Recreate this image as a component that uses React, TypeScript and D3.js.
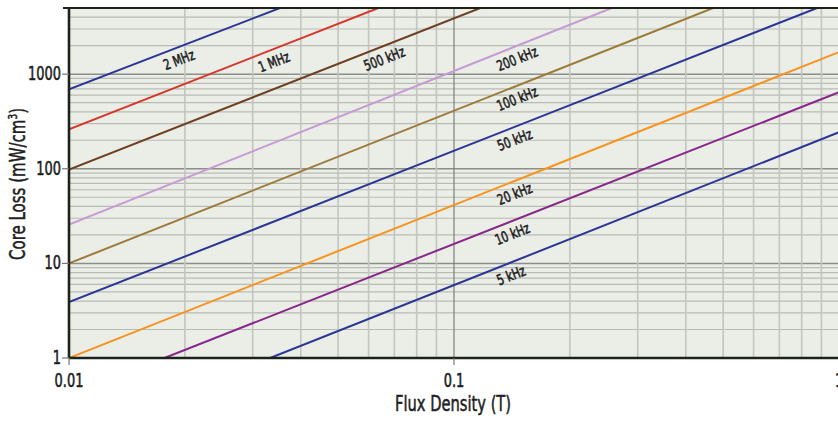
import * as d3 from "d3";
import { useEffect, useRef } from "react";

const freqLabels = ["2 MHz", "1 MHz", "500 kHz", "200 kHz", "100 kHz", "50 kHz", "20 kHz", "10 kHz", "5 kHz"];
const lineColors = ["#2b3694", "#d6372a", "#6e4023", "#c69ad2", "#9c7b3b", "#2b3694", "#f7931e", "#87278a", "#2b3694"];
// each curve at its two visible ends (B in T, P in mW/cm3)
const startB = [0.01, 0.01, 0.01, 0.01, 0.01, 0.01, 0.01, 0.0177, 0.0333];
const startP = [693, 261, 98, 25.7, 10, 3.9, 1.0, 1, 1];
const endB = [0.0353, 0.0636, 0.117, 0.257, 0.471, 0.877, 1, 1, 1];
const endP = [5000, 5000, 5000, 5000, 5000, 5000, 1710, 644, 243];
const labelB = [0.0188, 0.0332, 0.0642, 0.142, 0.142, 0.14, 0.14, 0.138, 0.137];

const xTicks = [0.01, 0.1, 1];
const xTickLabels = ["0.01", "0.1", "1"];
const yTicks = [1, 10, 100, 1000];
const yTickLabels = ["1", "10", "100", "1000"];

const W = 838;
const H = 421;
const plot = { left: 69, right: 839, top: 8, bottom: 358 };
const font = "'DejaVu Sans Condensed', 'DejaVu Sans', sans-serif";
const ink = "#1e1e1e";

type Sel = d3.Selection<any, unknown, null, undefined>;

// condensed-looking text: squeeze horizontally around the anchor point, thin stroke for a medium weight
function addText(parent: Sel, tx: number, ty: number, str: string, size: number, anchor: string, heavy = 0.4, rotate = 0, squeeze = 0.78) {
  return parent
    .append("g")
    .attr("transform", `translate(${tx},${ty}) rotate(${rotate}) scale(${squeeze},1)`)
    .append("text")
    .attr("text-anchor", anchor)
    .attr("font-family", font)
    .attr("font-size", size)
    .attr("fill", ink)
    .attr("stroke", ink)
    .attr("stroke-width", heavy)
    .text(str);
}

export default function App() {
  const svgRef = useRef<SVGSVGElement | null>(null);

  useEffect(() => {
    document.body.style.margin = "0";
    const svg = d3.select(svgRef.current) as Sel;
    svg.selectAll("*").remove();

    const x = d3.scaleLog().domain([0.01, 1]).range([plot.left, plot.right]);
    const y = d3.scaleLog().domain([1, 5000]).range([plot.bottom, plot.top]);

    svg
      .append("clipPath")
      .attr("id", "plot-clip")
      .append("rect")
      .attr("x", plot.left)
      .attr("y", plot.top)
      .attr("width", plot.right - plot.left)
      .attr("height", plot.bottom - plot.top);

    svg
      .append("rect")
      .attr("x", plot.left)
      .attr("y", plot.top)
      .attr("width", plot.right - plot.left)
      .attr("height", plot.bottom - plot.top)
      .attr("fill", "#ebede7");

    const grid = svg.append("g").attr("clip-path", "url(#plot-clip)");

    // horizontal grid
    const yMinor = d3.range(0, 4).flatMap((e) => d3.range(2, 10).map((m) => m * 10 ** e)).filter((v) => v <= 5000);
    grid
      .append("g")
      .selectAll("line")
      .data(yMinor)
      .join("line")
      .attr("x1", plot.left)
      .attr("x2", plot.right)
      .attr("y1", (d) => y(d))
      .attr("y2", (d) => y(d))
      .attr("stroke", "#b9bbb5")
      .attr("stroke-width", 1.2);
    grid
      .append("g")
      .selectAll("line")
      .data([10, 100, 1000])
      .join("line")
      .attr("x1", plot.left)
      .attr("x2", plot.right)
      .attr("y1", (d) => y(d))
      .attr("y2", (d) => y(d))
      .attr("stroke", "#8d8e8a")
      .attr("stroke-width", 1.5);

    // vertical grid
    const xMinor = [0.01, 0.1].flatMap((e) => d3.range(2, 10).map((m) => m * e));
    grid
      .append("g")
      .selectAll("line")
      .data(xMinor)
      .join("line")
      .attr("x1", (d) => x(d))
      .attr("x2", (d) => x(d))
      .attr("y1", plot.top)
      .attr("y2", plot.bottom)
      .attr("stroke", "#c3c5bf")
      .attr("stroke-width", 1.6);
    grid
      .append("line")
      .attr("x1", x(0.1))
      .attr("x2", x(0.1))
      .attr("y1", plot.top)
      .attr("y2", plot.bottom)
      .attr("stroke", "#7d7e7a")
      .attr("stroke-width", 1.2);

    // curves
    const line = d3
      .line<[number, number]>()
      .x((d) => x(d[0]))
      .y((d) => y(d[1]));
    svg
      .append("g")
      .attr("clip-path", "url(#plot-clip)")
      .selectAll("path")
      .data(freqLabels.map((_, i) => [[startB[i], startP[i]], [endB[i], endP[i]]] as [number, number][]))
      .join("path")
      .attr("d", (d) => line(d))
      .attr("fill", "none")
      .attr("stroke", (_, i) => lineColors[i])
      .attr("stroke-width", 2);

    // curve labels, set just under each curve and parallel to it
    freqLabels.forEach((label, i) => {
      const x1 = x(startB[i]);
      const y1 = y(startP[i]);
      const x2 = x(endB[i]);
      const y2 = y(endP[i]);
      const lx = x(labelB[i]);
      const ly = y1 + ((lx - x1) / (x2 - x1)) * (y2 - y1);
      const a = Math.atan2(y2 - y1, x2 - x1);
      const off = 12;
      const cx = lx - Math.sin(a) * off;
      const cy = ly + Math.cos(a) * off;
      addText(svg, cx, cy, label, 14.5, "middle", 0.55, (a * 180) / Math.PI, 0.8).attr("dy", "0.35em");
    });

    // axes frame
    svg
      .append("line")
      .attr("x1", plot.left - 6)
      .attr("x2", W)
      .attr("y1", plot.top)
      .attr("y2", plot.top)
      .attr("stroke", "#1c2419")
      .attr("stroke-width", 2);
    svg
      .append("line")
      .attr("x1", plot.left)
      .attr("x2", W)
      .attr("y1", plot.bottom)
      .attr("y2", plot.bottom)
      .attr("stroke", "#1c2419")
      .attr("stroke-width", 2.6);
    svg
      .append("line")
      .attr("x1", plot.left)
      .attr("x2", plot.left)
      .attr("y1", plot.top)
      .attr("y2", plot.bottom)
      .attr("stroke", "#1c2419")
      .attr("stroke-width", 2.6);

    // y ticks
    svg
      .append("g")
      .selectAll("line")
      .data(yTicks)
      .join("line")
      .attr("x1", plot.left - 7)
      .attr("x2", plot.left)
      .attr("y1", (d) => y(d))
      .attr("y2", (d) => y(d))
      .attr("stroke", "#777")
      .attr("stroke-width", 1.2);
    yTicks.forEach((v, i) => {
      addText(svg, plot.left - 8, y(v), yTickLabels[i], 20, "end", 0.6, 0, 0.72).attr("dy", "0.3em");
    });

    // x ticks
    svg
      .append("g")
      .selectAll("line")
      .data(xTicks)
      .join("line")
      .attr("x1", (d) => x(d))
      .attr("x2", (d) => x(d))
      .attr("y1", plot.bottom)
      .attr("y2", plot.bottom + 7)
      .attr("stroke", "#777")
      .attr("stroke-width", 1.2);
    xTicks.forEach((v, i) => {
      addText(svg, x(v), 387, xTickLabels[i], 20, "middle", 0.6, 0, 0.72);
    });

    // axis titles
    addText(svg, (plot.left + plot.right) / 2 - 1, 411, "Flux Density (T)", 21.5, "middle", 0.5, 0, 0.76);

    const yTitle = addText(svg, 25, 184, "", 22, "middle", 0.5, -90, 0.76);
    yTitle.append("tspan").text("Core Loss (mW/cm");
    yTitle.append("tspan").attr("baseline-shift", "super").attr("font-size", 13).text("3");
    yTitle.append("tspan").text(")");
  }, []);

  return <svg ref={svgRef} width={W} height={H} style={{ display: "block", background: "#fff" }} />;
}
